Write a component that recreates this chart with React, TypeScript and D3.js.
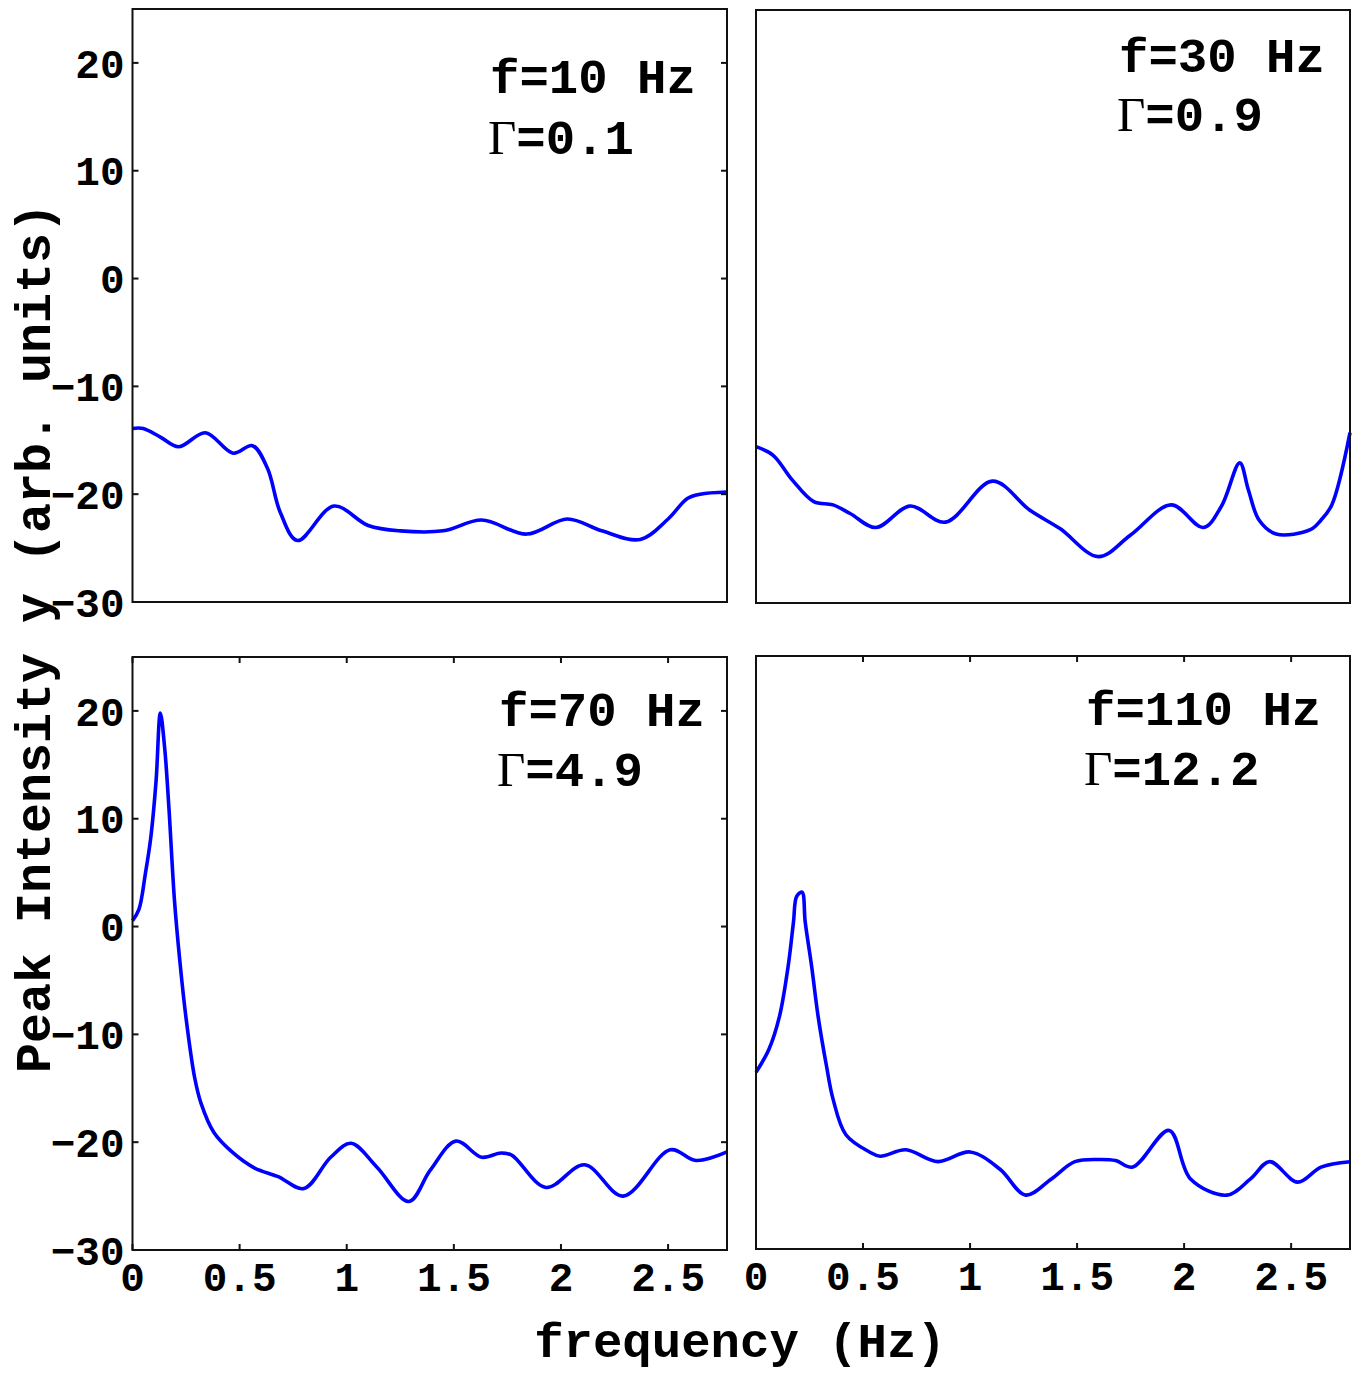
import React from "react";
import * as d3 from "d3";

// ---- data ----
const tlFreq = [0, 0.05, 0.13, 0.215, 0.34, 0.47, 0.56, 0.63, 0.69, 0.77, 0.94, 1.1, 1.25, 1.45, 1.63, 1.84, 2.03, 2.19, 2.37, 2.5, 2.59, 2.65, 2.775];
const tlVal = [-13.9, -13.9, -14.7, -15.6, -14.3, -16.2, -15.5, -17.6, -21.7, -24.3, -21.1, -22.9, -23.4, -23.4, -22.4, -23.7, -22.3, -23.4, -24.2, -22.3, -20.4, -20.0, -19.8];

const trFreq = [0, 0.08, 0.17, 0.27, 0.36, 0.44, 0.56, 0.72, 0.885, 1.105, 1.28, 1.42, 1.6, 1.75, 1.94, 2.09, 2.175, 2.26, 2.3, 2.35, 2.43, 2.59, 2.64, 2.69, 2.775];
const trVal = [-15.5, -16.3, -18.6, -20.6, -20.9, -21.7, -23.0, -21.0, -22.5, -18.7, -21.4, -23.1, -25.7, -23.7, -20.9, -23.0, -21.0, -17.0, -19.5, -22.3, -23.6, -23.2, -22.3, -20.9, -14.2];

const blFreq = [0, 0.03, 0.06, 0.085, 0.11, 0.13, 0.15, 0.17, 0.196, 0.22, 0.25, 0.29, 0.32, 0.38, 0.47, 0.57, 0.68, 0.8, 0.925, 1.02, 1.14, 1.29, 1.39, 1.51, 1.63, 1.72, 1.77, 1.93, 2.11, 2.29, 2.51, 2.63, 2.775];
const blVal = [0.55, 1.6, 4.9, 8.2, 13.5, 19.8, 16.6, 11.0, 2.4, -3.0, -8.5, -14.0, -16.4, -19.1, -21.0, -22.4, -23.2, -24.3, -21.4, -20.1, -22.3, -25.5, -22.6, -19.9, -21.4, -21.0, -21.2, -24.2, -22.1, -25.0, -20.7, -21.7, -20.9];

const brFreq = [0, 0.06, 0.11, 0.15, 0.175, 0.19, 0.215, 0.23, 0.26, 0.29, 0.33, 0.36, 0.42, 0.53, 0.58, 0.7, 0.85, 1.0, 1.14, 1.26, 1.38, 1.49, 1.61, 1.68, 1.76, 1.93, 2.03, 2.2, 2.31, 2.4, 2.53, 2.64, 2.775];
const brVal = [-13.6, -11.5, -8.4, -3.8, 0.3, 2.7, 3.1, 0.3, -3.8, -8.4, -13.1, -16.1, -19.4, -21.0, -21.4, -20.8, -21.9, -21.0, -22.6, -25.0, -23.5, -21.9, -21.7, -21.8, -22.4, -19.0, -23.5, -25.0, -23.5, -21.9, -23.8, -22.4, -21.9];

const xTicks = [0, 0.5, 1, 1.5, 2, 2.5];
const xTickLabels = ["0", "0.5", "1", "1.5", "2", "2.5"];
const yTicks = [-30, -20, -10, 0, 10, 20];
const yTickLabels = ["−30", "−20", "−10", "0", "10", "20"];

const fLabels = ["f=10 Hz", "f=30 Hz", "f=70 Hz", "f=110 Hz"];
const gammaLabels = ["=0.1", "=0.9", "=4.9", "=12.2"];

const X_DOMAIN: [number, number] = [0, 2.775];
const Y_DOMAIN: [number, number] = [-30, 25];

const MONO = "'Liberation Mono', 'DejaVu Sans Mono', monospace";
const SERIF = "'Liberation Serif', 'DejaVu Serif', serif";

type PanelCfg = {
  x0: number; x1: number; y0: number; y1: number;
  freq: number[]; val: number[];
  yTicksLeft: boolean; yTicksRight: boolean; yLabels: boolean;
  xTicks: boolean; xLabels: boolean;
  fIdx: number; annX: number; fBase: number; gBase: number;
};

const panels: PanelCfg[] = [
  { x0: 132.5, x1: 727, y0: 9, y1: 602, freq: tlFreq, val: tlVal, yTicksLeft: true, yTicksRight: true, yLabels: true, xTicks: false, xLabels: false, fIdx: 0, annX: 488, fBase: 93, gBase: 154 },
  { x0: 756, x1: 1350, y0: 10, y1: 603, freq: trFreq, val: trVal, yTicksLeft: false, yTicksRight: false, yLabels: false, xTicks: false, xLabels: false, fIdx: 1, annX: 1117, fBase: 72, gBase: 131 },
  { x0: 132.5, x1: 727, y0: 657, y1: 1250, freq: blFreq, val: blVal, yTicksLeft: true, yTicksRight: true, yLabels: true, xTicks: true, xLabels: true, fIdx: 2, annX: 497, fBase: 726, gBase: 786 },
  { x0: 756, x1: 1350, y0: 656, y1: 1249, freq: brFreq, val: brVal, yTicksLeft: false, yTicksRight: false, yLabels: false, xTicks: true, xLabels: true, fIdx: 3, annX: 1084, fBase: 725, gBase: 785 },
];

const TICK = 6;

function Panel({ p }: { p: PanelCfg }) {
  const x = d3.scaleLinear().domain(X_DOMAIN).range([p.x0, p.x1]);
  const y = d3.scaleLinear().domain(Y_DOMAIN).range([p.y1, p.y0]);
  const pts = p.freq.map((f, i) => [f, p.val[i]] as [number, number]);
  const line = d3.line<[number, number]>().x(d => x(d[0])).y(d => y(d[1])).curve(d3.curveCatmullRom.alpha(0.5));
  return (
    <g>
      <path d={line(pts) || ""} fill="none" stroke="#0000ff" strokeWidth={3.6} strokeLinejoin="round" />
      <rect x={p.x0} y={p.y0} width={p.x1 - p.x0} height={p.y1 - p.y0} fill="none" stroke="#111" strokeWidth={2} />
      {p.yTicksLeft && yTicks.map(t => (
        <line key={"yl" + t} x1={p.x0} x2={p.x0 + TICK} y1={y(t)} y2={y(t)} stroke="#111" strokeWidth={2} />
      ))}
      {p.yTicksRight && yTicks.map(t => (
        <line key={"yr" + t} x1={p.x1} x2={p.x1 - TICK} y1={y(t)} y2={y(t)} stroke="#111" strokeWidth={2} />
      ))}
      {p.xTicks && xTicks.map(t => (
        <g key={"xt" + t}>
          <line x1={x(t)} x2={x(t)} y1={p.y1} y2={p.y1 - TICK} stroke="#111" strokeWidth={2} />
          <line x1={x(t)} x2={x(t)} y1={p.y0} y2={p.y0 + TICK} stroke="#111" strokeWidth={2} />
        </g>
      ))}
      {p.yLabels && yTicks.map((t, i) => (
        <text key={"ylab" + t} x={p.x0 - 8} y={y(t)} dy="0.36em" textAnchor="end" fontFamily={MONO} fontWeight="bold" fontSize={41} fill="#000">{yTickLabels[i]}</text>
      ))}
      {p.xLabels && xTicks.map((t, i) => (
        <text key={"xlab" + t} x={x(t)} y={p.y1 + 41} textAnchor="middle" fontFamily={MONO} fontWeight="bold" fontSize={41} fill="#000">{xTickLabels[i]}</text>
      ))}
      <text x={p.annX + 2} y={p.fBase} fontFamily={MONO} fontWeight="bold" fontSize={49} fill="#000">{fLabels[p.fIdx]}</text>
      <text x={p.annX} y={p.gBase} fontSize={49} fill="#000">
        <tspan fontFamily={SERIF}>Γ</tspan>
        <tspan fontFamily={MONO} fontWeight="bold">{gammaLabels[p.fIdx]}</tspan>
      </text>
    </g>
  );
}

export default function App() {
  return (
    <svg width={1355} height={1374} style={{ position: "absolute", left: 0, top: 0, background: "#fff" }}>
      <rect x={0} y={0} width={1355} height={1374} fill="#fff" />
      {panels.map((p, i) => <Panel key={i} p={p} />)}
      <text x={740} y={1357} textAnchor="middle" fontFamily={MONO} fontWeight="bold" fontSize={49} fill="#000">frequency (Hz)</text>
      <text transform="translate(50,638) rotate(-90)" textAnchor="middle" fontFamily={MONO} fontWeight="bold" fontSize={50} fill="#000">Peak Intensity y (arb. units)</text>
    </svg>
  );
}
